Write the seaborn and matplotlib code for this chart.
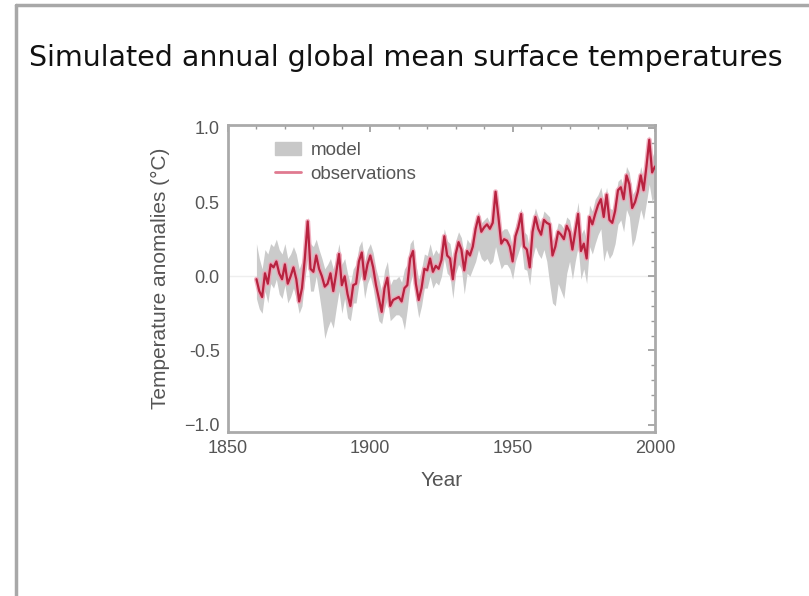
import numpy as np
import pandas as pd
import seaborn as sns
import matplotlib.pyplot as plt
from matplotlib.patches import Patch
from matplotlib.lines import Line2D

# annual values, 1860-2000
years = list(range(1860, 2001))

observations = [
    -0.02, -0.10, -0.14, 0.02, -0.05, 0.08, 0.06, 0.10, 0.02, -0.02,
    0.08, -0.05, 0.00, 0.06, -0.02, -0.17, -0.08, 0.12, 0.37, 0.05,
    0.03, 0.14, 0.05, 0.00, -0.07, -0.05, 0.02, -0.10, 0.02, 0.15,
    -0.06, 0.00, -0.12, -0.20, -0.06, -0.05, 0.10, 0.16, -0.02, 0.08,
    0.14, 0.06, -0.06, -0.15, -0.24, -0.08, -0.01, -0.20, -0.16, -0.15,
    -0.14, -0.17, -0.08, -0.06, 0.12, 0.17, -0.05, -0.16, -0.08, 0.05,
    0.04, 0.12, 0.03, 0.07, 0.05, 0.11, 0.27, 0.14, 0.12, -0.02,
    0.15, 0.23, 0.18, 0.04, 0.17, 0.14, 0.20, 0.32, 0.40, 0.30,
    0.33, 0.35, 0.32, 0.36, 0.57, 0.40, 0.22, 0.25, 0.24, 0.20,
    0.10, 0.27, 0.33, 0.42, 0.20, 0.18, 0.06, 0.30, 0.40, 0.32,
    0.28, 0.38, 0.36, 0.35, 0.14, 0.20, 0.30, 0.28, 0.25, 0.34,
    0.30, 0.18, 0.30, 0.42, 0.17, 0.22, 0.12, 0.40, 0.35, 0.42,
    0.48, 0.52, 0.40, 0.55, 0.38, 0.36, 0.44, 0.58, 0.60, 0.52,
    0.68, 0.62, 0.46, 0.50, 0.57, 0.68, 0.58, 0.74, 0.92, 0.70,
    0.74,
]

model_high = [
    0.22, 0.12, 0.05, 0.18, 0.15, 0.22, 0.20, 0.25, 0.18, 0.15,
    0.22, 0.12, 0.15, 0.20, 0.15, 0.05, 0.10, 0.25, 0.40, 0.22,
    0.20, 0.25, 0.18, 0.12, 0.05, 0.08, 0.12, 0.05, 0.12, 0.22,
    0.08, 0.12, 0.02, -0.05, 0.05, 0.08, 0.20, 0.24, 0.10, 0.18,
    0.22, 0.16, 0.05, -0.02, -0.10, 0.04, 0.10, -0.06, -0.02, -0.02,
    0.00, -0.04, 0.05, 0.08, 0.22, 0.25, 0.08, -0.02, 0.05, 0.15,
    0.14, 0.22, 0.14, 0.18, 0.15, 0.20, 0.32, 0.24, 0.22, 0.10,
    0.24, 0.30, 0.26, 0.14, 0.25, 0.22, 0.28, 0.38, 0.44, 0.36,
    0.38, 0.40, 0.36, 0.40, 0.58, 0.44, 0.30, 0.32, 0.32, 0.28,
    0.20, 0.34, 0.40, 0.46, 0.30, 0.28, 0.18, 0.38, 0.46, 0.40,
    0.36, 0.44, 0.42, 0.40, 0.24, 0.28, 0.36, 0.35, 0.32, 0.40,
    0.38, 0.28, 0.38, 0.50, 0.28, 0.32, 0.24, 0.48, 0.44, 0.52,
    0.55, 0.60, 0.50, 0.60, 0.46, 0.45, 0.52, 0.64, 0.66, 0.60,
    0.74, 0.70, 0.55, 0.58, 0.64, 0.74, 0.66, 0.80, 0.95, 0.80,
    0.86,
]

model_low = [
    -0.15, -0.22, -0.25, -0.10, -0.18, -0.05, -0.08, -0.02, -0.12, -0.15,
    -0.06, -0.18, -0.14, -0.08, -0.15, -0.25, -0.20, -0.02, 0.12, -0.10,
    -0.10, 0.00, -0.12, -0.25, -0.42, -0.35, -0.30, -0.35, -0.22, -0.10,
    -0.25, -0.15, -0.28, -0.30, -0.18, -0.18, -0.05, 0.02, -0.15, -0.05,
    0.00, -0.08, -0.20, -0.30, -0.32, -0.22, -0.15, -0.30, -0.28, -0.26,
    -0.26, -0.28, -0.36, -0.22, -0.05, 0.02, -0.16, -0.28, -0.20, -0.08,
    -0.08, 0.00, -0.08, -0.04, -0.06, 0.00, 0.12, 0.02, 0.00, -0.15,
    0.02, 0.08, 0.05, -0.12, 0.02, 0.00, 0.05, 0.10, 0.18, 0.12,
    0.10, 0.12, 0.08, 0.10, 0.20, 0.12, 0.05, 0.08, 0.08, 0.05,
    -0.02, 0.10, 0.16, 0.22, 0.05, 0.04, -0.06, 0.12, 0.20, 0.15,
    0.12, 0.18, 0.10, -0.05, -0.18, -0.20, -0.05, -0.10, -0.15, 0.02,
    0.10, -0.02, 0.10, 0.20, -0.02, 0.05, -0.05, 0.20, 0.15, 0.22,
    0.28, 0.32, 0.10, 0.18, 0.12, 0.15, 0.22, 0.35, 0.38, 0.30,
    0.45, 0.40, 0.20, 0.25, 0.35, 0.45, 0.38, 0.50, 0.62, 0.50,
    0.55,
]

df = pd.DataFrame({"Year": years, "obs": observations,
                   "lo": model_low, "hi": model_high})

sns.set_theme(style="white")
plt.rcParams["font.family"] = ["Liberation Sans", "DejaVu Sans"]

fig = plt.figure(figsize=(8.09, 5.96), dpi=100)

# slide frame (top and left edges)
fig.add_artist(Line2D([0.0195, 0.0195], [0, 0.991], color="#a8a8a8", lw=2.5,
                      transform=fig.transFigure))
fig.add_artist(Line2D([0.0195, 1], [0.991, 0.991], color="#a8a8a8", lw=2.5,
                      transform=fig.transFigure))

fig.text(0.502, 0.902, "Simulated annual global mean surface temperatures",
         ha="center", va="center", fontsize=20.5, color="#111111",
         family=["DejaVu Sans"])

ax = fig.add_axes([0.2818, 0.2752, 0.5278, 0.5151])

ax.axhline(0, color="#eeeeee", lw=1, zorder=0)
ax.fill_between(df["Year"], df["lo"], df["hi"], color="#cbcbcb",
                lw=0, zorder=1)
# soft pink halo under the observed line
sns.lineplot(data=df, x="Year", y="obs", ax=ax, color="#f0a0b4", lw=3.6,
             alpha=0.8, zorder=2)
sns.lineplot(data=df, x="Year", y="obs", ax=ax, color="#b8223f", lw=1.6,
             zorder=3)

ax.set_xlim(1850, 2000)
ax.set_ylim(-1.05, 1.02)
ax.set_xticks([1850, 1900, 1950, 2000])
ax.set_yticks([-1.0, -0.5, 0.0, 0.5, 1.0])
ax.set_yticklabels(["\u22121.0", "-0.5", "0.0", "0.5", "1.0"])
ax.set_xticks(np.arange(1850, 2001, 10), minor=True)
ax.set_yticks(np.arange(-1.0, 1.01, 0.1), minor=True)
ax.tick_params(which="both", direction="in", top=True, right=True,
               color="#999999", labelcolor="#555555", labelsize=13)
ax.tick_params(which="major", length=5, width=1.2, pad=6)
ax.tick_params(which="minor", length=3, width=1)
for s in ax.spines.values():
    s.set_color("#aaaaaa")
    s.set_linewidth(2)

ax.set_xlabel("Year", fontsize=15, color="#555555", labelpad=10)
ax.set_ylabel("Temperature anomalies (\u00b0C)", fontsize=15,
              color="#555555", labelpad=10)

handles = [Patch(color="#c8c8c8", label="model"),
           Line2D([], [], color="#e07a90", lw=2, label="observations")]
ax.legend(handles=handles, loc="upper left", frameon=False,
          bbox_to_anchor=(0.07, 1.0), fontsize=13.5, labelcolor="#555555",
          handlelength=1.4, handletextpad=0.5, labelspacing=0.35)

fig.savefig("out.png", dpi=100)
